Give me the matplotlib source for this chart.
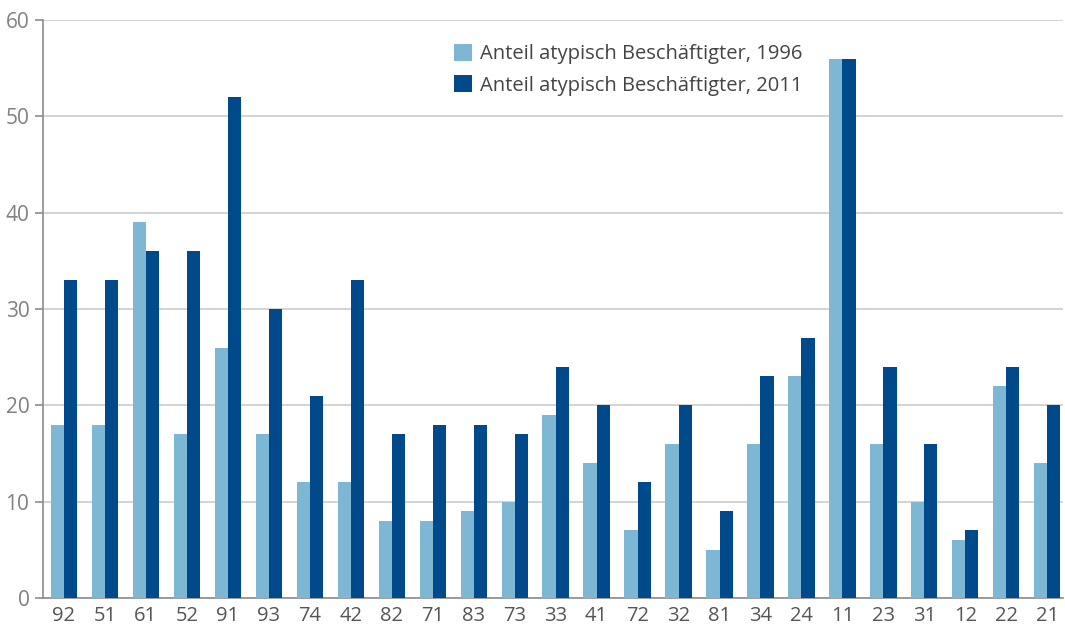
import numpy as np
import matplotlib.pyplot as plt

categories = ['92', '51', '61', '52', '91', '93', '74', '42', '82', '71', '83', '73', '33',
              '41', '72', '32', '81', '34', '24', '11', '23', '31', '12', '22', '21']
share_1996 = [18, 18, 39, 17, 26, 17, 12, 12, 8, 8, 9, 10, 19,
              14, 7, 16, 5, 16, 23, 56, 16, 10, 6, 22, 14]
share_2011 = [33, 33, 36, 36, 52, 30, 21, 33, 17, 18, 18, 17, 24,
              20, 12, 20, 9, 23, 27, 56, 24, 16, 7, 24, 20]
labels = ['Anteil atypisch Beschäftigter, 1996', 'Anteil atypisch Beschäftigter, 2011']

plt.rcParams['font.family'] = ['Open Sans', 'DejaVu Sans']

fig = plt.figure(figsize=(10.65, 6.3), dpi=100)
ax = fig.add_axes([0.040, 0.051, 0.958, 0.917])

x = np.arange(len(categories))
w = 0.32
ax.bar(x - w / 2, share_1996, width=w, color='#7db7d3', label=labels[0], zorder=3)
ax.bar(x + w / 2, share_2011, width=w, color='#004a8c', label=labels[1], zorder=3)

ax.set_xlim(-0.52, len(categories) - 0.62)
ax.set_ylim(0, 60)
ax.set_yticks(range(0, 61, 10))
ax.set_xticks(x)
ax.set_xticklabels(categories)
ax.yaxis.grid(True, color='#cccccc', linewidth=1.2, zorder=0)

for side in ['top', 'right']:
    ax.spines[side].set_visible(False)
for side in ['left', 'bottom']:
    ax.spines[side].set_color('#8c8c8c')
    ax.spines[side].set_linewidth(1.2)

ax.tick_params(axis='y', colors='#8c8c8c', labelcolor='#808080', labelsize=15, length=6, width=1.2)
ax.tick_params(axis='x', length=0, labelcolor='#555555', labelsize=14.5, pad=6)

ax.legend(loc='upper left', bbox_to_anchor=(0.385, 0.99), frameon=False, fontsize=14.5,
          handlelength=0.9, handleheight=0.9, handletextpad=0.4, labelspacing=0.55,
          labelcolor='#444444')

fig.savefig('out.png', dpi=100)
